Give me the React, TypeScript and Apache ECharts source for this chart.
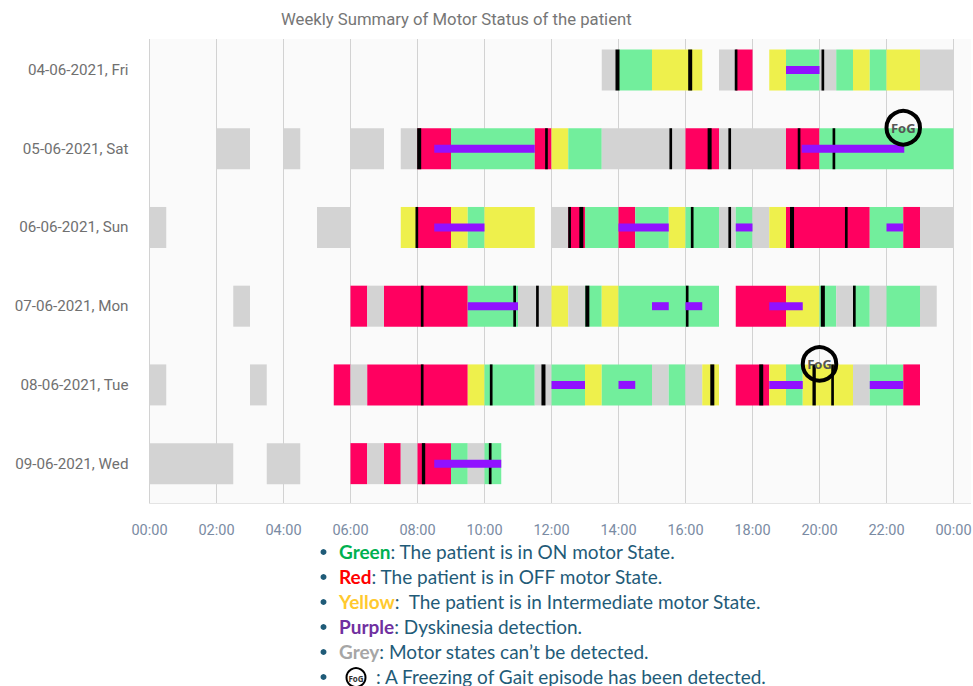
import React, { useEffect, useRef } from "react";
import * as echarts from "echarts";

const days = ["04-06-2021, Fri", "05-06-2021, Sat", "06-06-2021, Sun", "07-06-2021, Mon", "08-06-2021, Tue", "09-06-2021, Wed"];
const hourTicks = ["00:00", "02:00", "04:00", "06:00", "08:00", "10:00", "12:00", "14:00", "16:00", "18:00", "20:00", "22:00", "00:00"];

// state codes: G = ON, R = OFF, Y = Intermediate, N = not detected
const friStates = [[13.5, 14, "N"], [14, 15, "G"], [15, 16.5, "Y"], [17, 17.5, "N"], [17.5, 18, "R"], [18.5, 19, "Y"], [19, 20, "G"], [20, 20.5, "N"], [20.5, 21, "G"], [21, 21.5, "Y"], [21.5, 22, "G"], [22, 23, "Y"], [23, 24, "N"]];
const satStates = [[2, 3, "N"], [4, 4.5, "N"], [6, 7, "N"], [7.5, 8, "N"], [8, 9, "R"], [9, 11.5, "G"], [11.5, 12, "R"], [12, 12.5, "Y"], [12.5, 13.5, "G"], [13.5, 16, "N"], [16, 17, "R"], [17, 19, "N"], [19, 20, "R"], [20, 24, "G"]];
const sunStates = [[0, 0.5, "N"], [5, 6, "N"], [7.5, 8, "Y"], [8, 9, "R"], [9, 9.5, "Y"], [9.5, 10, "G"], [10, 11.5, "Y"], [12, 12.5, "N"], [12.5, 13, "R"], [13, 14, "G"], [14, 14.5, "R"], [14.5, 15.5, "G"], [15.5, 16, "Y"], [16, 17, "G"], [17, 17.5, "N"], [17.5, 18, "G"], [18, 18.5, "N"], [18.5, 19, "Y"], [19, 21.5, "R"], [21.5, 22.5, "G"], [22.5, 23, "R"], [23, 24, "N"]];
const monStates = [[2.5, 3, "N"], [6, 6.5, "R"], [6.5, 7, "N"], [7, 9.5, "R"], [9.5, 11, "G"], [11, 12, "N"], [12, 12.5, "Y"], [12.5, 13, "N"], [13, 13.5, "G"], [13.5, 14, "Y"], [14, 17, "G"], [17.5, 19, "R"], [19, 20, "Y"], [20, 20.5, "G"], [20.5, 21, "N"], [21, 21.5, "G"], [21.5, 22, "N"], [22, 23, "G"], [23, 23.5, "N"]];
const tueStates = [[0, 0.5, "N"], [3, 3.5, "N"], [5.5, 6, "R"], [6, 6.5, "N"], [6.5, 9.5, "R"], [9.5, 10, "Y"], [10, 11.5, "G"], [11.5, 12, "N"], [12, 13, "G"], [13, 13.5, "Y"], [13.5, 15, "G"], [15, 15.5, "N"], [15.5, 16, "G"], [16, 16.5, "N"], [16.5, 17, "Y"], [17.5, 18.5, "R"], [18.5, 19, "Y"], [19, 19.5, "G"], [19.5, 21, "Y"], [21, 21.5, "N"], [21.5, 22.5, "G"], [22.5, 23, "R"]];
const wedStates = [[0, 2.5, "N"], [3.5, 4.5, "N"], [6, 6.5, "R"], [6.5, 7, "N"], [7, 7.5, "R"], [7.5, 8, "N"], [8, 9, "R"], [9, 9.5, "G"], [9.5, 10, "N"], [10, 10.5, "G"]];

// [day index, start hour, end hour]
const dyskinesia = [
  [0, 19, 20],
  [1, 8.5, 11.5], [1, 19.47, 22.53],
  [2, 8.5, 10], [2, 14, 15.5], [2, 17.5, 18], [2, 22, 22.5],
  [3, 9.5, 11], [3, 15, 15.5], [3, 16, 16.5], [3, 18.5, 19.5],
  [4, 12, 13], [4, 14, 14.5], [4, 18.5, 19.5], [4, 21.5, 22.5],
  [5, 8.5, 10.5],
];
const blackMarks = [
  [0, 13.91, 14.03], [0, 16.08, 16.2], [0, 17.47, 17.55], [0, 20.06, 20.14],
  [1, 7.99, 8.11], [1, 11.81, 11.89], [1, 15.52, 15.6], [1, 16.66, 16.78], [1, 17.28, 17.36], [1, 19.35, 19.43], [1, 20.39, 20.47],
  [2, 7.94, 8.02], [2, 12.5, 12.58], [2, 12.83, 12.95], [2, 16.16, 16.24], [2, 17.28, 17.36], [2, 19.12, 19.24], [2, 20.76, 20.84],
  [3, 8.1, 8.18], [3, 10.86, 10.94], [3, 11.54, 11.62], [3, 13.01, 13.13], [3, 16.01, 16.09], [3, 20.04, 20.16], [3, 21, 21.08],
  [4, 8.1, 8.18], [4, 10.16, 10.24], [4, 11.7, 11.82], [4, 16.74, 16.86], [4, 18.2, 18.32], [4, 19.79, 19.89], [4, 20.35, 20.43],
  [5, 8.13, 8.23], [5, 10.13, 10.21],
];
// [hour, day index]
const fogEvents = [[22.5, 1], [20, 4]];

const legendLines = [
  { key: "g", word: "Green", rest: ": The patient is in ON motor State." },
  { key: "r", word: "Red", rest: ": The patient is in OFF motor State." },
  { key: "y", word: "Yellow", rest: ":  The patient is in Intermediate motor State." },
  { key: "p", word: "Purple", rest: ": Dyskinesia detection." },
  { key: "n", word: "Grey", rest: ": Motor states can\u2019t be detected." },
];

const stateColors: Record<string, string> = { G: "#72ee9c", R: "#ff0060", Y: "#eef04c", N: "#d3d3d3" };
const LEGEND_INK = "#1f5b78";
const LEGEND_FONT = "Lato";
const LEGEND_SIZE = 19;

const allStates = [friStates, satStates, sunStates, monStates, tueStates, wedStates].flatMap((row, r) =>
  row.map((s) => [r, s[0], s[1], s[2]])
);

function spanSeries(name: string, data: any[], z: number, fill: (i: number) => string, heightOf: (rowPx: number) => number) {
  return {
    type: "custom",
    name,
    z,
    silent: true,
    clip: false,
    data,
    encode: { x: [1, 2], y: 0 },
    renderItem: (params: any, api: any) => {
      const a = api.coord([api.value(1), api.value(0)]);
      const b = api.coord([api.value(2), api.value(0)]);
      const h = heightOf(api.size([0, 1])[1]);
      return {
        type: "rect",
        shape: { x: a[0], y: a[1] - h / 2, width: b[0] - a[0], height: h },
        style: { fill: fill(params.dataIndex) },
      };
    },
  };
}

export default function App() {
  const ref = useRef<HTMLDivElement>(null);
  useEffect(() => {
    document.body.style.margin = "0";
    const chart = echarts.init(ref.current!, undefined, { renderer: "svg" });
    const legendY = [551, 576, 601, 626, 651, 676];
    const bold = (fill: string) => ({ fontFamily: LEGEND_FONT, fontSize: LEGEND_SIZE, fontWeight: "bold", fill, lineHeight: 20 });
    const rich: any = {
      t: { fontFamily: LEGEND_FONT, fontSize: LEGEND_SIZE, fill: LEGEND_INK, lineHeight: 20 },
      g: bold("#00b050"),
      r: bold("#ff0000"),
      y: bold("#ffc92e"),
      p: bold("#7030a0"),
      n: bold("#a6a6a6"),
    };
    const graphics: any[] = [
      { type: "rect", z: -1, silent: true, shape: { x: 149, y: 39, width: 822, height: 464 }, style: { fill: "#fafafa" } },
      { type: "line", z: -1, silent: true, shape: { x1: 149, y1: 503.5, x2: 971, y2: 503.5 }, style: { stroke: "#e4e4e4", lineWidth: 1 } },
      ...legendY.map((y) => ({ type: "circle", silent: true, shape: { cx: 323.5, cy: y + 1, r: 3 }, style: { fill: LEGEND_INK } })),
      ...legendLines.map((l, i) => ({
        type: "text",
        silent: true,
        x: 339,
        y: legendY[i],
        style: { text: `{${l.key}|${l.word}}{t|${l.rest}}`, rich, verticalAlign: "middle", align: "left" },
      })),
      { type: "circle", silent: true, shape: { cx: 356, cy: 677.5, r: 9.5 }, style: { fill: "transparent", stroke: "#000", lineWidth: 2 } },
      { type: "text", silent: true, x: 356, y: 678.5, style: { text: "FoG", font: "bold 8px 'Open Sans'", fill: "#333", align: "center", verticalAlign: "middle" } },
      { type: "text", silent: true, x: 376, y: 676, style: { text: ": A Freezing of Gait episode has been detected.", font: `${LEGEND_SIZE}px ${LEGEND_FONT}`, fill: LEGEND_INK, verticalAlign: "middle", align: "left", lineHeight: 18 } },
    ];
    chart.setOption({
      animation: false,
      title: {
        text: "Weekly Summary of Motor Status of the patient",
        left: 276,
        top: 6,
        textStyle: { fontFamily: "Roboto", fontSize: 16.7, fontWeight: "normal", color: "#767676" },
      },
      grid: { left: 149.5, right: 19.5, top: 39, bottom: 183, outerBoundsMode: "none" },
      xAxis: {
        type: "value",
        min: 0,
        max: 24,
        interval: 2,
        axisLine: { show: false },
        axisTick: { show: false },
        splitLine: { show: true, lineStyle: { color: "#d2d2d2", width: 1 } },
        axisLabel: {
          margin: 20,
          fontFamily: "Roboto",
          fontSize: 14.5,
          color: "#7a8ba3",
          formatter: (v: number) => hourTicks[v / 2],
        },
      },
      yAxis: {
        type: "value",
        inverse: true,
        min: -0.394,
        max: 5.5,
        axisLine: { show: false },
        axisTick: { show: false },
        splitLine: { show: false },
        axisLabel: {
          margin: 21,
          customValues: [0, 1, 2, 3, 4, 5],
          fontFamily: "Roboto",
          fontSize: 15.2,
          color: "#707070",
          formatter: (v: number) => days[v],
        },
      },
      series: [
        spanSeries("Motor state", allStates, 2, (i) => stateColors[allStates[i][3] as string], (r) => r * 0.521),
        spanSeries("Marks", blackMarks, 3, () => "#000000", (r) => r * 0.521),
        spanSeries("Dyskinesia", dyskinesia, 4, () => "#9111ff", () => 8),
        {
          type: "scatter",
          name: "FoG",
          z: 5,
          silent: true,
          data: fogEvents,
          symbol: "circle",
          symbolSize: 33.5,
          symbolOffset: [0, -21],
          itemStyle: { color: "rgba(255,255,255,0)", borderColor: "#000", borderWidth: 4, opacity: 1 },
          label: {
            show: true,
            position: "inside",
            formatter: "FoG",
            fontFamily: "Open Sans",
            fontWeight: "bold",
            fontSize: 13,
            color: "#555",
          },
        },
      ],
      graphic: graphics,
    });
    return () => chart.dispose();
  }, []);
  return <div ref={ref} style={{ width: 973, height: 686, overflow: "hidden" }} />;
}
